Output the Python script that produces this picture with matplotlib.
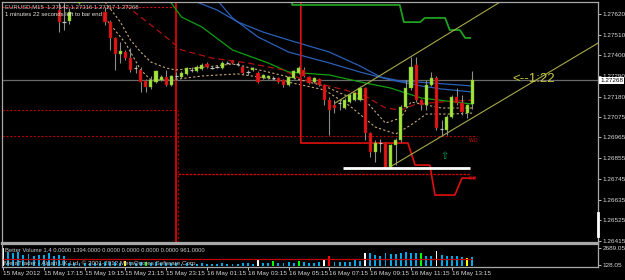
import numpy as np
import matplotlib
matplotlib.use('Agg')
import matplotlib.pyplot as plt

plt.rcParams['font.family'] = ['Liberation Sans', 'DejaVu Sans']

# ---- EURUSD M15 candles (bar 0 = 15 May 15:15) ----
opens = [1.27950, 1.27920, 1.27900, 1.27870, 1.27840, 1.27850, 1.27800, 1.27780, 1.27800, 1.27760,
         1.27740, 1.27641, 1.27578, 1.27583, 1.27720, 1.27680, 1.27750, 1.27770, 1.27760, 1.27730,
         1.27630, 1.27577, 1.27493, 1.27408, 1.27418, 1.27386, 1.27333, 1.27323, 1.27264, 1.27233,
         1.27259, 1.27270, 1.27286, 1.27243, 1.27291, 1.27286, 1.27302, 1.27323, 1.27317, 1.27328,
         1.27355, 1.27333, 1.27339, 1.27333, 1.27360, 1.27370, 1.27355, 1.27339, 1.27312, 1.27323,
         1.27307, 1.27280, 1.27280, 1.27280, 1.27280, 1.27270, 1.27243, 1.27280, 1.27307, 1.27323,
         1.27286, 1.27259, 1.27275, 1.27243, 1.27163, 1.27137, 1.27147, 1.27121, 1.27153, 1.27163,
         1.27163, 1.27227, 1.26988, 1.26887, 1.26935, 1.26935, 1.26808, 1.26925, 1.26951, 1.27126,
         1.27227, 1.27349, 1.27163, 1.27137, 1.27243, 1.27280, 1.27010, 1.27004, 1.27073, 1.27179,
         1.27147, 1.27094, 1.27142]
highs = [1.27990, 1.27960, 1.27930, 1.27900, 1.27880, 1.27870, 1.27830, 1.27820, 1.27820, 1.27790,
         1.27760, 1.27700, 1.27694, 1.27652, 1.27740, 1.27770, 1.27790, 1.27800, 1.27780, 1.27740,
         1.27655, 1.27588, 1.27498, 1.27471, 1.27429, 1.27439, 1.27349, 1.27339, 1.27275, 1.27291,
         1.27323, 1.27296, 1.27323, 1.27296, 1.27312, 1.27317, 1.27339, 1.27339, 1.27349, 1.27360,
         1.27365, 1.27344, 1.27349, 1.27370, 1.27370, 1.27376, 1.27365, 1.27349, 1.27323, 1.27339,
         1.27317, 1.27302, 1.27296, 1.27291, 1.27286, 1.27275, 1.27291, 1.27323, 1.27344, 1.27339,
         1.27291, 1.27286, 1.27280, 1.27248, 1.27179, 1.27163, 1.27163, 1.27174, 1.27200, 1.27206,
         1.27238, 1.27233, 1.26994, 1.26951, 1.26957, 1.26940, 1.26930, 1.26962, 1.27137, 1.27270,
         1.27392, 1.27392, 1.27168, 1.27270, 1.27312, 1.27291, 1.27057, 1.27084, 1.27190, 1.27227,
         1.27190, 1.27142, 1.27316]
lows = [1.27900, 1.27880, 1.27850, 1.27820, 1.27800, 1.27790, 1.27760, 1.27750, 1.27740, 1.27720,
        1.27690, 1.27524, 1.27535, 1.27567, 1.27688, 1.27675, 1.27730, 1.27740, 1.27720, 1.27690,
        1.27562, 1.27429, 1.27323, 1.27360, 1.27376, 1.27312, 1.27307, 1.27206, 1.27206, 1.27222,
        1.27254, 1.27264, 1.27238, 1.27238, 1.27270, 1.27280, 1.27296, 1.27312, 1.27312, 1.27323,
        1.27333, 1.27328, 1.27333, 1.27328, 1.27355, 1.27355, 1.27344, 1.27302, 1.27296, 1.27317,
        1.27254, 1.27275, 1.27275, 1.27270, 1.27254, 1.27233, 1.27238, 1.27275, 1.27302, 1.27286,
        1.27248, 1.27254, 1.27238, 1.27137, 1.26978, 1.27094, 1.27110, 1.27115, 1.27147, 1.27158,
        1.27158, 1.26951, 1.26861, 1.26834, 1.26887, 1.26802, 1.26802, 1.26818, 1.26940, 1.27121,
        1.27217, 1.27153, 1.27110, 1.27110, 1.27238, 1.27004, 1.26972, 1.26978, 1.27068, 1.27137,
        1.27084, 1.27068, 1.27117]
closes = [1.27920, 1.27900, 1.27870, 1.27840, 1.27850, 1.27800, 1.27780, 1.27800, 1.27760, 1.27740,
          1.27700, 1.27577, 1.27580, 1.27630, 1.27690, 1.27750, 1.27770, 1.27760, 1.27730, 1.27700,
          1.27577, 1.27493, 1.27408, 1.27424, 1.27386, 1.27323, 1.27336, 1.27259, 1.27233, 1.27270,
          1.27317, 1.27286, 1.27243, 1.27291, 1.27292, 1.27307, 1.27333, 1.27325, 1.27339, 1.27349,
          1.27339, 1.27335, 1.27341, 1.27360, 1.27362, 1.27360, 1.27357, 1.27307, 1.27314, 1.27333,
          1.27259, 1.27296, 1.27291, 1.27282, 1.27259, 1.27243, 1.27286, 1.27317, 1.27333, 1.27291,
          1.27254, 1.27280, 1.27243, 1.27163, 1.27110, 1.27121, 1.27149, 1.27163, 1.27190, 1.27201,
          1.27227, 1.26988, 1.26887, 1.26935, 1.26937, 1.26808, 1.26925, 1.26951, 1.27126, 1.27227,
          1.27339, 1.27163, 1.27137, 1.27243, 1.27280, 1.27015, 1.27012, 1.27073, 1.27179, 1.27147,
          1.27100, 1.27137, 1.27268]

# Better Volume histogram
volumes = [2689, 2100, 1950, 2150, 1700, 1800, 1500, 1600, 1700, 2000,
           1500, 1700, 1500, 450, 400, 500, 450, 380, 420, 500,
           550, 600, 650, 500, 700, 550, 400, 600, 650, 500,
           550, 400, 450, 420, 380, 350, 400, 300, 350, 380,
           330, 300, 350, 400, 300, 320, 300, 450, 380, 350,
           1030, 450, 400, 700, 450, 500, 550, 500, 700, 550,
           500, 450, 550, 1030, 1530, 600, 550, 600, 650, 880,
           700, 1935, 1980, 1634, 1483, 1935, 1835, 1785, 1935, 2035,
           1935, 1985, 1935, 1483, 1530, 2236, 1634, 1530, 1483, 1483,
           1380, 1137, 1394]
vol_special = {0: 'white', 24: 'yellow', 28: 'lime', 50: 'white', 53: 'lime', 58: 'lime',
               63: 'white', 64: 'red', 71: 'white', 82: 'lime', 85: 'white', 91: 'yellow'}
vol_avg = 961.0

# moving averages (bar index, price)
blue1_x = [37, 42, 46, 51, 56, 64, 70, 74, 78, 84, 92]
blue1_y = [1.27694, 1.27641, 1.27578, 1.27524, 1.27482, 1.27418, 1.27344, 1.27286, 1.27264, 1.27254, 1.27238]
blue2_x = [42, 45, 50, 56, 64, 70, 76, 82, 86, 92]
blue2_y = [1.27694, 1.27599, 1.27498, 1.27418, 1.27360, 1.27312, 1.27270, 1.27238, 1.27222, 1.27206]
green_x = [32, 33, 35, 39, 45, 52, 56, 64, 71, 76, 82, 92]
green_y = [1.27694, 1.27678, 1.27604, 1.27551, 1.27429, 1.27360, 1.27312, 1.27296, 1.27254, 1.27227, 1.27174, 1.27142]
dred_x = [24, 26, 31, 35, 41, 48, 55, 58, 63, 67, 71, 75, 78, 81, 86, 92]
dred_y = [1.27668, 1.27625, 1.27519, 1.27429, 1.27386, 1.27360, 1.27323, 1.27280, 1.27243, 1.27217,
          1.27185, 1.27121, 1.27110, 1.27142, 1.27153, 1.27163]
tan1_x = [20, 23, 25, 27, 29, 32, 34, 40, 45, 52, 56, 63, 67, 71, 75, 78, 80, 86, 92]
tan1_y = [1.27684, 1.27578, 1.27482, 1.27418, 1.27365, 1.27333, 1.27323, 1.27339, 1.27355, 1.27312,
          1.27286, 1.27238, 1.27190, 1.27163, 1.27041, 1.27068, 1.27153, 1.27121, 1.27121]
tan2_x = [20, 24, 27, 29, 33, 39, 46, 54, 63, 68, 73, 77, 80, 83, 88, 92]
tan2_y = [1.27599, 1.27466, 1.27323, 1.27270, 1.27270, 1.27291, 1.27302, 1.27270, 1.27217, 1.27132,
          1.27020, 1.26983, 1.27031, 1.27089, 1.27089, 1.27094]

# step lines
redstep_x = [58.4, 58.4, 79.4, 80.8, 83.7, 84.7, 88.6, 90.0, 92.5]
redstep_y = [1.27700, 1.26935, 1.26935, 1.26818, 1.26818, 1.26659, 1.26659, 1.26749, 1.26749]
grnstep_x = [56.7, 56.7, 77.8, 78.6, 81.8, 82.7, 86.7, 87.6, 89.6, 90.6, 91.6]
grnstep_y = [1.27700, 1.27668, 1.27668, 1.27577, 1.27577, 1.27599, 1.27599, 1.27535, 1.27535, 1.27493, 1.27493]

# channel
chan_up_x = [65.1, 97.5]
chan_up_y = [1.27147, 1.27684]
chan_lo_x = [75.9, 116.7]
chan_lo_y = [1.26808, 1.27466]

bid = 1.27268
price_ticks = [1.27620, 1.27510, 1.27400, 1.27290, 1.27180, 1.27075, 1.26965,
               1.26855, 1.26745, 1.26635, 1.26525, 1.26415]
time_ticks = [0, 8, 16, 24, 32, 40, 48, 56, 64, 72, 80, 88]
time_labels = ['15 May 2012', '15 May 17:15', '15 May 19:15', '15 May 21:15', '15 May 23:15',
               '16 May 01:15', '16 May 03:15', '16 May 05:15', '16 May 07:15', '16 May 09:15',
               '16 May 11:15', '16 May 13:15']

o = np.array(opens); h = np.array(highs); l = np.array(lows); c = np.array(closes)
idx = np.arange(len(o))

fig = plt.figure(figsize=(6.25, 2.8), dpi=100, facecolor='black')
ax = fig.add_axes([2/625, 37/280, 596/625, 241/280], facecolor='black')
axv = fig.add_axes([2/625, 13/280, 596/625, 23/280], facecolor='black')

XL = (-0.196, 116.67)
ax.set_xlim(XL)
ax.set_ylim(1.264044, 1.276837)
axv.set_xlim(XL)
axv.set_ylim(-173.25, 3291.65)

# horizontal levels
ax.hlines(bid, XL[0], XL[1], color='#6a6a6a', lw=0.9, zorder=1)
ax.hlines(1.27658, XL[0], 33.9, color='#d01010', lw=0.8, linestyles=(0, (2, 1.5)), zorder=1)
ax.hlines(1.27110, XL[0], 33.9, color='#b00000', lw=0.8, linestyles=(0, (2, 1.5)), zorder=1)
ax.hlines(1.26972, XL[0], 92.9, color='#b00000', lw=0.8, linestyles=(0, (2, 1.5)), zorder=1)
ax.hlines(1.26771, 34.3, 91.6, color='#e00000', lw=0.9, linestyles=(0, (2, 1)), zorder=1)
ax.vlines(33.9, 1.26404, 1.27694, color='#e00000', lw=1.3, zorder=1)
ax.vlines(34.4, 1.26404, 1.27110, color='#900000', lw=0.9, linestyles=(0, (2, 1.5)), zorder=1)

# moving averages
ax.plot(blue1_x, blue1_y, color='#2a60b8', lw=0.9, zorder=2)
ax.plot(blue2_x, blue2_y, color='#2a60b8', lw=0.9, zorder=2)
ax.plot(green_x, green_y, color='#10a010', lw=0.9, zorder=2)
ax.plot(dred_x, dred_y, color='#b01010', lw=0.9, ls=(0, (5, 3)), zorder=2)
ax.plot(tan1_x, tan1_y, color='#c8a878', lw=0.8, ls=(0, (2, 2)), zorder=2)
ax.plot(tan2_x, tan2_y, color='#c8a878', lw=0.8, ls=(0, (2, 2)), zorder=2)

# step lines and channel
ax.plot(redstep_x, redstep_y, color='#e01010', lw=1.2, zorder=2)
ax.plot(grnstep_x, grnstep_y, color='#20a020', lw=1.3, zorder=2)
ax.plot(chan_up_x, chan_up_y, color='#a8a848', lw=0.8, zorder=2)
ax.plot(chan_lo_x, chan_lo_y, color='#a8a848', lw=0.8, zorder=2)
ax.hlines(1.26805, 66.7, 91.6, color='white', lw=2, zorder=4)

# candles
body_lo = np.minimum(o, c)
body_hi = np.maximum(o, c)
doji = (body_hi - body_lo) < 0.00004
up = (c > o) & ~doji
dn = (c < o) & ~doji
ax.vlines(idx, l, h, color='#8c8c8c', lw=0.8, zorder=3)
ax.bar(idx[up], (body_hi - body_lo)[up], bottom=body_lo[up], width=0.62,
       color='#a6e63c', edgecolor='#70b020', lw=0.3, zorder=3)
ax.bar(idx[dn], (body_hi - body_lo)[dn], bottom=body_lo[dn], width=0.62,
       color='#e01818', edgecolor='#a00000', lw=0.3, zorder=3)
ax.hlines(c[doji], idx[doji] - 0.35, idx[doji] + 0.35, color='#c0c0c0', lw=0.9, zorder=3)

# annotations
ax.text(0.005, 0.992, 'EURUSD,M15  1.27142 1.27316 1.27117 1.27268', transform=ax.transAxes,
        color='#c8c8c8', fontsize=4.3, va='top', ha='left', zorder=5)
ax.text(0.005, 0.957, '1 minutes 22 seconds left to bar end', transform=ax.transAxes,
        color='#e8e4d8', fontsize=4.3, va='top', ha='left', zorder=5)
ax.text(99.8, 1.27276, '<--1:22', color='#c8c840', fontsize=9.5, va='center', ha='left', zorder=5)
ax.text(86.5, 1.26866, '\u21e7', color='#10a060', fontsize=7, va='center', ha='center',
        family='DejaVu Sans', zorder=5)
ax.text(91.3, 1.26962, 'W-D', color='#d01010', fontsize=3.5, va='top', ha='left', zorder=5)
ax.text(91.3, 1.26761, 'E-D', color='#d01010', fontsize=3.5, va='top', ha='left', zorder=5)

# price axis
for a in (ax, axv):
    for s in a.spines.values():
        s.set_color('#a8a8a8')
        s.set_linewidth(0.9)
ax.spines['bottom'].set_linewidth(1.6)
axv.spines['top'].set_linewidth(1.6)
ax.yaxis.tick_right()
ax.set_yticks(price_ticks)
ax.set_yticklabels(['%.5f' % p for p in price_ticks])
ax.tick_params(axis='y', colors='#d8d8d8', labelsize=4.6, length=2, width=0.6, pad=1.2)
ax.tick_params(axis='x', bottom=False, labelbottom=False)
ax.annotate('%.5f' % bid, xy=(1, bid), xycoords=('axes fraction', 'data'), xytext=(1.5, 0),
            textcoords='offset points', ha='left', va='center', fontsize=4.6, color='black',
            bbox=dict(fc='white', ec='none', pad=0.6), annotation_clip=False, zorder=6)
ax.plot([1.0, 1.0], [1.26443, 1.26565], transform=ax.get_yaxis_transform(), color='white',
        lw=2, clip_on=False, zorder=6)

# volume window
vcol = [vol_special.get(i, '#00a8e8') for i in range(len(volumes))]
axv.bar(idx, volumes, width=0.38, color=vcol, zorder=2)
axv.hlines(vol_avg, 0, 92, color='#c00000', lw=0.9, zorder=3)
axv.text(0.005, 0.70, 'Better Volume 1.4 0.0000 1394.0000 0.0000 0.0000 0.0000 0.0000 961.0000',
         transform=axv.transAxes, color='#c8c8c8', fontsize=4.25, va='center', ha='left', zorder=5)
axv.text(0.003, 0.17, 'MetaTrader - Alpari UK Ltd. \u00a9 2001-2012 MetaQuotes Software Corp.',
         transform=axv.transAxes, color='#c8c8c8', fontsize=4.5, va='center', ha='left', zorder=5)
axv.yaxis.tick_right()
axv.set_yticks([2689.05, 128.05])
axv.set_yticklabels(['2689.05', '128.05'])
axv.tick_params(axis='y', colors='#d8d8d8', labelsize=4.6, length=2, width=0.6, pad=1.2)
axv.set_xticks(time_ticks)
axv.set_xticklabels(time_labels)
axv.tick_params(axis='x', colors='#d8d8d8', labelsize=4.6, length=2, width=0.6, pad=0.8)
for t in axv.get_xticklabels():
    t.set_ha('left')

fig.savefig('out.png', dpi=100, facecolor='black')
